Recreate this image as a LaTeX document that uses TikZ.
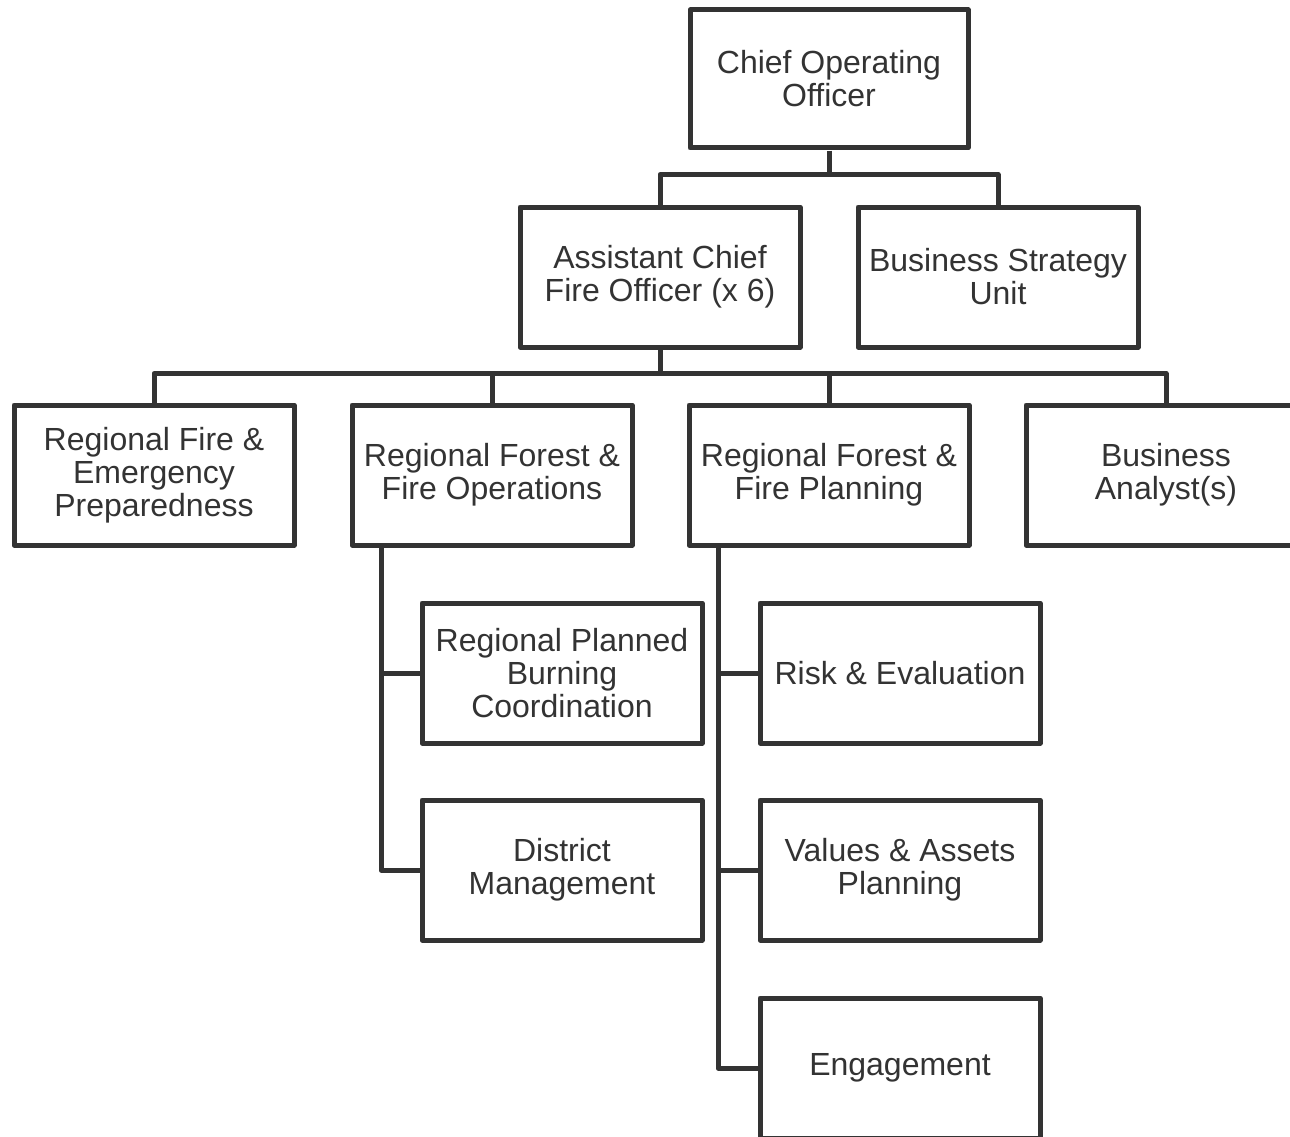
\documentclass[tikz,border=0pt]{standalone}
\usepackage{fontspec}
\setmainfont{Liberation Sans}
\definecolor{ink}{RGB}{51,51,51}
\begin{document}
\begin{tikzpicture}[x=1pt,y=-1pt,
  unit/.style={draw=ink, line width=5pt, line join=round, fill=white,
    text=ink, rectangle, minimum width=280pt, minimum height=140pt,
    inner sep=0pt, align=center,
    font=\fontsize{32}{33}\selectfont},
  link/.style={draw=ink, line width=5pt, line join=round}]
\clip (0,0) rectangle (1290,1137);
\fill[white] (0,0) rectangle (1290,1137);

% top level
\node[unit, minimum width=278pt, minimum height=138pt] (coo) at (829,79) {Chief Operating\\Officer};

% second level
\node[unit] (acfo) at (660,277) {Assistant Chief\\Fire Officer (x 6)};
\node[unit] (bsu) at (998,277) {Business Strategy\\Unit};

% third level
\node[unit] (rfep) at (154,475) {Regional Fire \&\\Emergency\\Preparedness};
\node[unit] (rffo) at (492,475) {Regional Forest \&\\Fire Operations};
\node[unit] (rffp) at (829,475) {Regional Forest \&\\Fire Planning};
\node[unit] (ba) at (1166,475) {Business\\Analyst(s)};

% operations branch
\node[unit] (rpbc) at (562,673) {Regional Planned\\Burning\\Coordination};
\node[unit] (dm) at (562,870) {District\\Management};

% planning branch
\node[unit] (risk) at (900,673) {Risk \& Evaluation};
\node[unit] (vap) at (900,870) {Values \& Assets\\Planning};
\node[unit] (eng) at (900,1068) {Engagement};

% connectors
\coordinate (busA) at (829,177);
\coordinate (busB) at (660,376);
\draw[link] (coo.south) -- (busA);
\draw[link] (acfo.north) -- ++(0,-30) -| (bsu.north);

\draw[link] (acfo.south) -- (busB);
\draw[link] (rfep.north) -- ++(0,-29) -| (ba.north);
\draw[link] (rffo.north) -- ++(0,-29);
\draw[link] (rffp.north) -- ++(0,-29);

\coordinate (opsTop) at (381,545);
\coordinate (plnTop) at (718,545);
\draw[link] (opsTop) |- (dm.west);
\draw[link] (opsTop |- rpbc.west) -- (rpbc.west);
\draw[link] (plnTop) |- (eng.west);
\draw[link] (plnTop |- risk.west) -- (risk.west);
\draw[link] (plnTop |- vap.west) -- (vap.west);
\end{tikzpicture}
\end{document}
